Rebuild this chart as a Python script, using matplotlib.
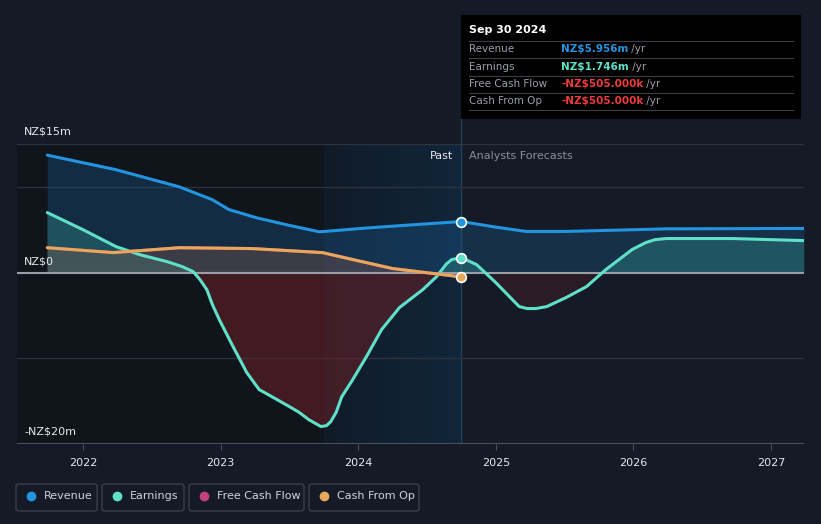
import numpy as np
import matplotlib.pyplot as plt
from matplotlib.patches import Rectangle, FancyBboxPatch
from matplotlib.colors import LinearSegmentedColormap

# values in NZ$ millions, x in decimal years
rev_past_x = [2021.74, 2022.24, 2022.70, 2022.94, 2023.06, 2023.26, 2023.50, 2023.72, 2024.06, 2024.42, 2024.75]
rev_past_y = [13.7, 12.0, 10.0, 8.5, 7.35, 6.4, 5.5, 4.75, 5.2, 5.6, 5.956]
rev_fc_x = [2024.75, 2025.0, 2025.22, 2025.51, 2026.24, 2027.24]
rev_fc_y = [5.956, 5.3, 4.8, 4.8, 5.1, 5.15]

earn_past_x = [2021.74, 2022.00, 2022.24, 2022.41, 2022.61, 2022.72, 2022.80, 2022.85, 2022.90, 2022.94,
               2022.99, 2023.09, 2023.19, 2023.28, 2023.41, 2023.50, 2023.57, 2023.64, 2023.70, 2023.73,
               2023.77, 2023.80, 2023.84, 2023.88, 2023.96, 2024.06, 2024.17, 2024.30, 2024.47, 2024.57,
               2024.64, 2024.68, 2024.75]
earn_past_y = [7.0, 5.0, 3.03, 2.1, 1.28, 0.7, 0.12, -0.82, -2.0, -3.73,
               -5.48, -8.63, -11.67, -13.65, -14.82, -15.64, -16.3, -17.15, -17.7, -17.97,
               -17.85, -17.4, -16.3, -14.5, -12.49, -9.8, -6.65, -4.08, -1.98, -0.47,
               1.0, 1.52, 1.746]
earn_fc_x = [2024.75, 2024.86, 2025.00, 2025.12, 2025.17, 2025.23, 2025.29, 2025.37, 2025.51, 2025.66,
             2025.80, 2025.99, 2026.09, 2026.16, 2026.24, 2026.72, 2027.24]
earn_fc_y = [1.746, 0.93, -1.17, -3.15, -3.97, -4.2, -4.2, -3.97, -2.92, -1.63,
             0.35, 2.68, 3.5, 3.85, 3.97, 3.97, 3.73]

cfo_x = [2021.74, 2022.22, 2022.70, 2023.23, 2023.74, 2023.96, 2024.25, 2024.49, 2024.75]
cfo_y = [2.9, 2.33, 2.9, 2.8, 2.33, 1.52, 0.47, 0.0, -0.505]
fcf_x = cfo_x
fcf_y = cfo_y

year_ticks = [2022, 2023, 2024, 2025, 2026, 2027]

BG = '#151b26'
C_REV = '#2394df'
C_EARN = '#5fe0c8'
C_FCF = '#c2407f'
C_CFO = '#e8a85a'

W, H = 821, 524
fig = plt.figure(figsize=(W / 100, H / 100), dpi=100)
fig.patch.set_facecolor(BG)


def fx(px):
    return px / W


def fy(py):
    return 1 - py / H


ax = fig.add_axes([fx(17), fy(444), fx(804) - fx(17), fy(144) - fy(444)])
ax.set_facecolor(BG)
ax.set_xlim(2021.52, 2027.24)
ax.set_ylim(-20, 15)
for s in ax.spines.values():
    s.set_visible(False)

# past (darker) region and last-year highlight
ax.axvspan(2021.52, 2023.75, color='#10141b', zorder=0, lw=0)
grad = np.linspace(0, 1, 256).reshape(1, -1)
cm = LinearSegmentedColormap.from_list('hl', ['#111b28', '#10263a'])
ax.imshow(grad, extent=[2023.75, 2024.75, -20, 15], aspect='auto', cmap=cm, zorder=0.5)
ax.axvline(2024.75, color='#24405a', lw=1, zorder=1)
fig.add_artist(plt.Line2D([fx(461), fx(461)], [fy(144), fy(119)], color='#24405a', lw=1))

for g in [15, 10, -10]:
    ax.axhline(g, color='#2c333f', lw=1, zorder=1)
ax.axhline(-20, color='#4a505a', lw=1.5, zorder=1)

# fills
rx = rev_past_x + rev_fc_x[1:]
ry = rev_past_y + rev_fc_y[1:]
ax.fill_between(rx, ry, 0, color='#1a5a90', alpha=0.35, lw=0, zorder=2)

ex = np.array(earn_past_x + earn_fc_x[1:])
ey = np.array(earn_past_y + earn_fc_y[1:])
ax.fill_between(ex, ey, 0, where=ey >= 0, interpolate=True, color='#3aa89a', alpha=0.3, lw=0, zorder=2)
ax.fill_between(earn_past_x, earn_past_y, 0, where=np.array(earn_past_y) <= 0, interpolate=True,
                color='#6a2028', alpha=0.55, lw=0, zorder=2)
ax.fill_between(earn_fc_x, earn_fc_y, 0, where=np.array(earn_fc_y) <= 0, interpolate=True,
                color='#4a2028', alpha=0.4, lw=0, zorder=2)
ax.fill_between(cfo_x, cfo_y, 0, color='#8a5a50', alpha=0.35, lw=0, zorder=2)

ax.axhline(0, color='#9a9ea6', lw=1.5, zorder=3)

# lines
kw = dict(lw=2.2, solid_capstyle='round', solid_joinstyle='round')
ax.plot(rev_past_x, rev_past_y, color=C_REV, zorder=5, **kw)
ax.plot(rev_fc_x, rev_fc_y, color=C_REV, zorder=5, **kw)
ax.plot(earn_past_x, earn_past_y, color=C_EARN, zorder=5, **kw)
ax.plot(earn_fc_x, earn_fc_y, color=C_EARN, zorder=5, **kw)
ax.plot(fcf_x, fcf_y, color=C_FCF, zorder=5, **kw)
ax.plot(cfo_x, cfo_y, color=C_CFO, zorder=6, **kw)

for yv, c in [(rev_past_y[-1], C_REV), (earn_past_y[-1], C_EARN), (cfo_y[-1], C_CFO)]:
    ax.plot([2024.75], [yv], 'o', ms=7, mfc=c, mec='white', mew=1.2, zorder=7)

ax.set_xticks(year_ticks)
ax.set_xticklabels([str(y) for y in year_ticks])
ax.tick_params(axis='x', colors='#4a505a', labelcolor='#e6e8eb', labelsize=8, length=4, pad=6)
ax.set_yticks([])

# y labels
fig.text(fx(24), fy(131), 'NZ$15m', color='#e6e8eb', fontsize=8, va='center')
fig.text(fx(24), fy(261), 'NZ$0', color='#e6e8eb', fontsize=8, va='center')
fig.text(fx(24), fy(431), '-NZ$20m', color='#e6e8eb', fontsize=8, va='center')

fig.text(fx(453), fy(156), 'Past', color='#e6e8eb', fontsize=8, va='center', ha='right')
fig.text(fx(469), fy(156), 'Analysts Forecasts', color='#8a8f98', fontsize=8, va='center')

# tooltip
fig.patches.append(Rectangle((fx(461), fy(119)), fx(801) - fx(461), fy(15) - fy(119),
                             transform=fig.transFigure, facecolor='#000000', edgecolor='none', zorder=10))
fig.text(fx(469), fy(30), 'Sep 30 2024', color='white', fontsize=8, fontweight='bold', va='center', zorder=11)
rows = [('Revenue', 'NZ$5.956m', C_REV), ('Earnings', 'NZ$1.746m', C_EARN),
        ('Free Cash Flow', '-NZ$505.000k', '#ee3b3b'), ('Cash From Op', '-NZ$505.000k', '#ee3b3b')]
for i, (lab, val, c) in enumerate(rows):
    yy = 49 + i * 17.5
    fig.add_artist(plt.Line2D([fx(469), fx(793)], [fy(yy - 8.5), fy(yy - 8.5)], color='#3a3f47', lw=0.8, zorder=11))
    fig.text(fx(469), fy(yy), lab, color='#9a9ea6', fontsize=7.5, va='center', zorder=11)
    t = fig.text(fx(561), fy(yy), val, color=c, fontsize=7.5, va='center', fontweight='semibold', zorder=11)
    fig.add_artist(plt.Annotation(' /yr', xy=(1, 0.5), xycoords=t, va='center', ha='left',
                                  color='#9a9ea6', fontsize=7.5, zorder=11))
fig.add_artist(plt.Line2D([fx(469), fx(793)], [fy(110), fy(110)], color='#3a3f47', lw=0.8, zorder=11))

# legend
legend = [('Revenue', C_REV, 16, 97), ('Earnings', C_EARN, 102, 184),
          ('Free Cash Flow', C_FCF, 189, 304), ('Cash From Op', C_CFO, 309, 419)]
for lab, c, x0, x1 in legend:
    fig.patches.append(FancyBboxPatch((fx(x0), fy(511)), fx(x1) - fx(x0), fy(484) - fy(511),
                                      boxstyle='round,pad=0,rounding_size=0.004', transform=fig.transFigure,
                                      facecolor='none', edgecolor='#3a3f4a', lw=1))
    fig.add_artist(plt.Line2D([fx(x0 + 15)], [fy(496)], marker='o', ms=6, color=c, mec=c))
    fig.text(fx(x0 + 28), fy(496), lab, color='#cfd3da', fontsize=8, va='center')

fig.savefig('out.png', dpi=100, facecolor=BG)
